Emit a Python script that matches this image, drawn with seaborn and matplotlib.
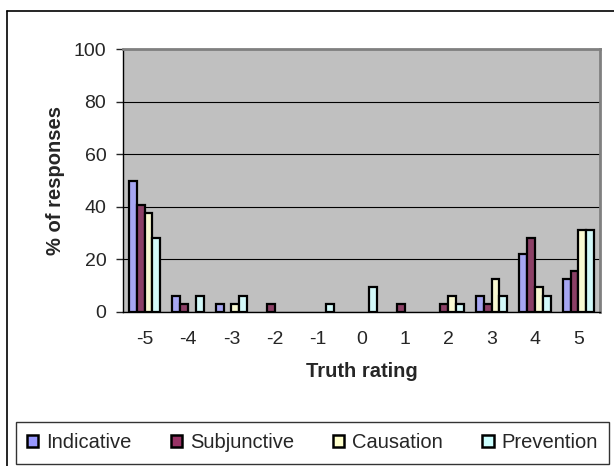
import numpy as np
import pandas as pd
import matplotlib
matplotlib.use("Agg")
import matplotlib.pyplot as plt
import seaborn as sns
from matplotlib.ticker import FixedLocator
from matplotlib.lines import Line2D

ratings = ["-5", "-4", "-3", "-2", "-1", "0", "1", "2", "3", "4", "5"]
indicative = [50.0, 6.25, 3.125, 0, 0, 0, 0, 0, 6.25, 21.875, 12.5]
subjunctive = [40.625, 3.125, 0, 3.125, 0, 0, 3.125, 3.125, 3.125, 28.125, 15.625]
causation = [37.5, 0, 3.125, 0, 0, 0, 0, 6.25, 12.5, 9.375, 31.25]
prevention = [28.125, 6.25, 6.25, 0, 3.125, 9.375, 0, 3.125, 6.25, 6.25, 31.25]

conditions = ["Indicative", "Subjunctive", "Causation", "Prevention"]
colors = ["#9999FF", "#993366", "#FFFFCC", "#CCFFFF"]

df = pd.DataFrame({
    "rating": ratings * 4,
    "condition": np.repeat(conditions, len(ratings)),
    "pct": indicative + subjunctive + causation + prevention,
})

sns.set_style("white")
plt.rcParams["font.family"] = ["Liberation Sans", "DejaVu Sans"]

W, H = 614, 466
fig = plt.figure(figsize=(W / 100, H / 100), dpi=100)
# chart border (cropped: only left and top edges visible)
fig.add_artist(Line2D([7 / W, 7 / W], [0, 1 - 11 / H], color="black", lw=1.2,
                      transform=fig.transFigure))
fig.add_artist(Line2D([7 / W, 1], [1 - 11 / H, 1 - 11 / H], color="black", lw=1.2,
                      transform=fig.transFigure))

ax = fig.add_axes([123 / W, 1 - 312 / H, 477 / W, 263 / H])
ax.set_facecolor("#C0C0C0")

sns.barplot(data=df, x="rating", y="pct", hue="condition", order=ratings,
            hue_order=conditions, palette=colors, width=0.72,
            edgecolor="black", linewidth=1.6, ax=ax, legend=False)
# Excel draws nothing for zero values
for p in ax.patches:
    if p.get_height() == 0:
        p.set_visible(False)

ax.set_ylim(0, 100)
ax.set_xlim(-0.5, 10.5)
ax.set_yticks(range(0, 101, 20))
ax.yaxis.grid(True, color="black", linewidth=0.8)
ax.set_axisbelow(True)
ax.xaxis.set_minor_locator(FixedLocator(np.arange(-0.5, 11, 1)))
ax.tick_params(axis="x", which="major", length=0, labelsize=14, pad=14)
ax.tick_params(axis="x", which="minor", length=5, direction="out", width=1)
ax.tick_params(axis="y", length=5, direction="out", labelsize=14, width=1,
               left=True, pad=7)
for side in ["left", "bottom"]:
    ax.spines[side].set_color("black")
    ax.spines[side].set_linewidth(1)
for side in ["top", "right"]:
    ax.spines[side].set_color("#808080")
    ax.spines[side].set_linewidth(2)

ax.set_xlabel("Truth rating", fontsize=14.5, fontweight="bold", labelpad=10)
ax.set_ylabel("% of responses", fontsize=14.5, fontweight="bold", labelpad=6)

handles = [plt.Rectangle((0, 0), 1, 1, facecolor=c, edgecolor="black", linewidth=1.8)
           for c in colors]
leg = fig.legend(handles, conditions, loc="center", ncol=4,
                 bbox_to_anchor=(312.5 / W, 1 - 443 / H),
                 fontsize=14.5, frameon=True, fancybox=False,
                 handlelength=0.55, handleheight=0.55, handletextpad=0.4,
                 columnspacing=1.95, borderpad=0.55, borderaxespad=0)
leg.get_frame().set_edgecolor("black")
leg.get_frame().set_linewidth(1)

fig.savefig("out.png", dpi=100)
